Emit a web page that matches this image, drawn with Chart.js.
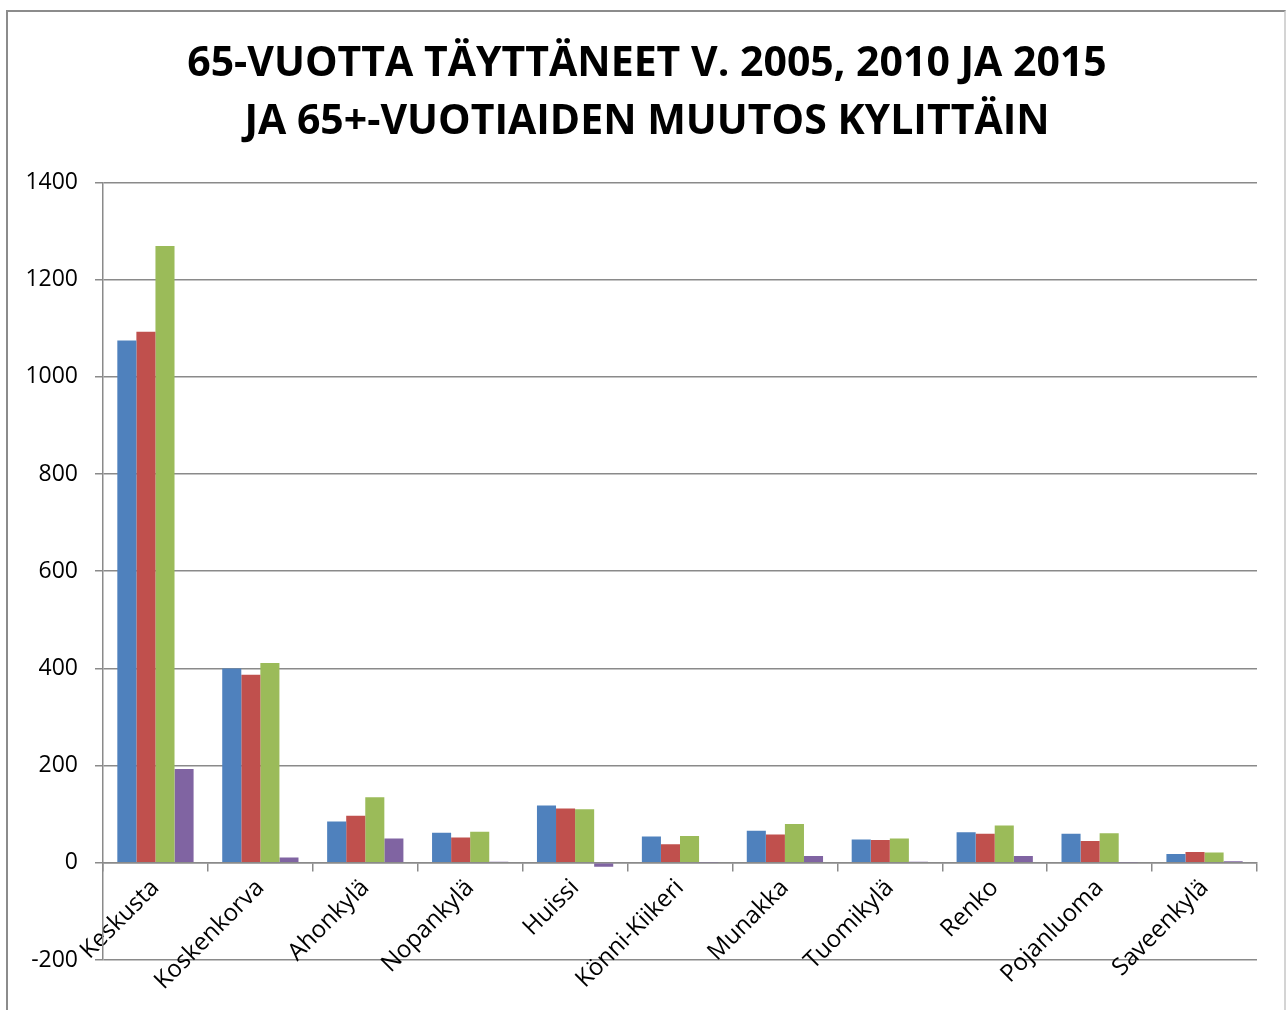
<!DOCTYPE html>
<html>

<head>
    <meta charset="utf-8">
    <title>65-vuotta täyttäneet kylittäin</title>
    <style type="text/css">
        body {
            margin: 0;
            background: #ffffff;
        }

        #chart-container {
            position: absolute;
            left: 0;
            top: 0;
            width: 1286px;
            height: 1010px;
        }

        #frame {
            position: absolute;
            left: 6px;
            top: 10px;
            width: 1276px;
            height: 1020px;
            border: 2px solid #8c8c8c;
            border-right-color: #d4d4d4;
            pointer-events: none;
        }
    </style>
    <script type="text/javascript" src="https://cdn.jsdelivr.net/npm/chart.js@4.4.1/dist/chart.umd.min.js"></script>
</head>

<body>
    <div id="chart-container">
        <canvas id="graphCanvas" width="1286" height="1010"></canvas>
    </div>
    <div id="frame"></div>

    <script>
        // kylät
        var villages = ['Keskusta', 'Koskenkorva', 'Ahonkylä', 'Nopankylä', 'Huissi', 'Könni-Kiikeri',
            'Munakka', 'Tuomikylä', 'Renko', 'Pojanluoma', 'Saveenkylä'];
        // 65-vuotta täyttäneet
        var y2005 = [1075, 400, 85, 62, 118, 54, 66, 48, 63, 60, 18];
        var y2010 = [1093, 387, 97, 52, 112, 38, 58, 47, 60, 45, 22];
        var y2015 = [1269, 411, 135, 64, 110, 55, 80, 50, 77, 61, 21];
        // 65+-vuotiaiden muutos
        var change = [193, 11, 50, 2, -8, 1, 14, 2, 14, 1, 3];
        var yTicks = [-200, 0, 200, 400, 600, 800, 1000, 1200, 1400];

        var gridColor = '#8a8a8a';
        var font = 'Open Sans';

        var chartdata = {
            labels: villages,
            datasets: [
                { label: '2005', backgroundColor: '#4F81BD', data: y2005 },
                { label: '2010', backgroundColor: '#C0504D', data: y2010 },
                { label: '2015', backgroundColor: '#9BBB59', data: y2015 },
                { label: 'Muutos', backgroundColor: '#8064A2', data: change }
            ]
        };

        var graphTarget = document.getElementById('graphCanvas');

        var barGraph = new Chart(graphTarget, {
            type: 'bar',
            data: chartdata,
            options: {
                responsive: false,
                animation: false,
                layout: {
                    padding: { left: 8, right: 0, top: 0, bottom: 50 }
                },
                datasets: {
                    bar: {
                        categoryPercentage: 0.727,
                        barPercentage: 1.0
                    }
                },
                plugins: {
                    legend: { display: false },
                    tooltip: { enabled: false },
                    title: {
                        display: true,
                        text: ['65-VUOTTA TÄYTTÄNEET V. 2005, 2010 JA 2015', 'JA 65+-VUOTIAIDEN MUUTOS KYLITTÄIN'],
                        color: '#000000',
                        font: { family: font, size: 41, weight: 'bold', lineHeight: 1.42 },
                        padding: { top: 35, bottom: 31 }
                    }
                },
                scales: {
                    x: {
                        position: { y: 0 },
                        grid: {
                            offset: true,
                            drawOnChartArea: false,
                            drawTicks: true,
                            tickLength: 8,
                            color: gridColor,
                            lineWidth: 1.5
                        },
                        border: { display: true, color: gridColor, width: 1.5 },
                        ticks: {
                            color: '#000000',
                            font: { family: font, size: 24 },
                            maxRotation: 45,
                            minRotation: 45,
                            autoSkip: false,
                            padding: 3
                        }
                    },
                    y: {
                        min: -200,
                        max: 1400,
                        afterFit: function (scale) { scale.width = 95; },
                        afterBuildTicks: function (scale) {
                            scale.ticks = yTicks.map(function (v) { return { value: v }; });
                        },
                        grid: {
                            color: gridColor,
                            lineWidth: 1.5,
                            tickLength: 8
                        },
                        border: { display: true, color: gridColor, width: 1.5 },
                        ticks: {
                            color: '#000000',
                            font: { family: font, size: 23 },
                            padding: 17,
                            callback: function (value) { return String(value); }
                        }
                    },
                    // empty right margin so the title centres on the whole frame
                    yRight: {
                        position: 'right',
                        min: -200,
                        max: 1400,
                        afterFit: function (scale) { scale.width = 29; },
                        grid: { display: false },
                        border: { display: false },
                        ticks: { display: false }
                    }
                }
            }
        });
    </script>

</body>

</html>
